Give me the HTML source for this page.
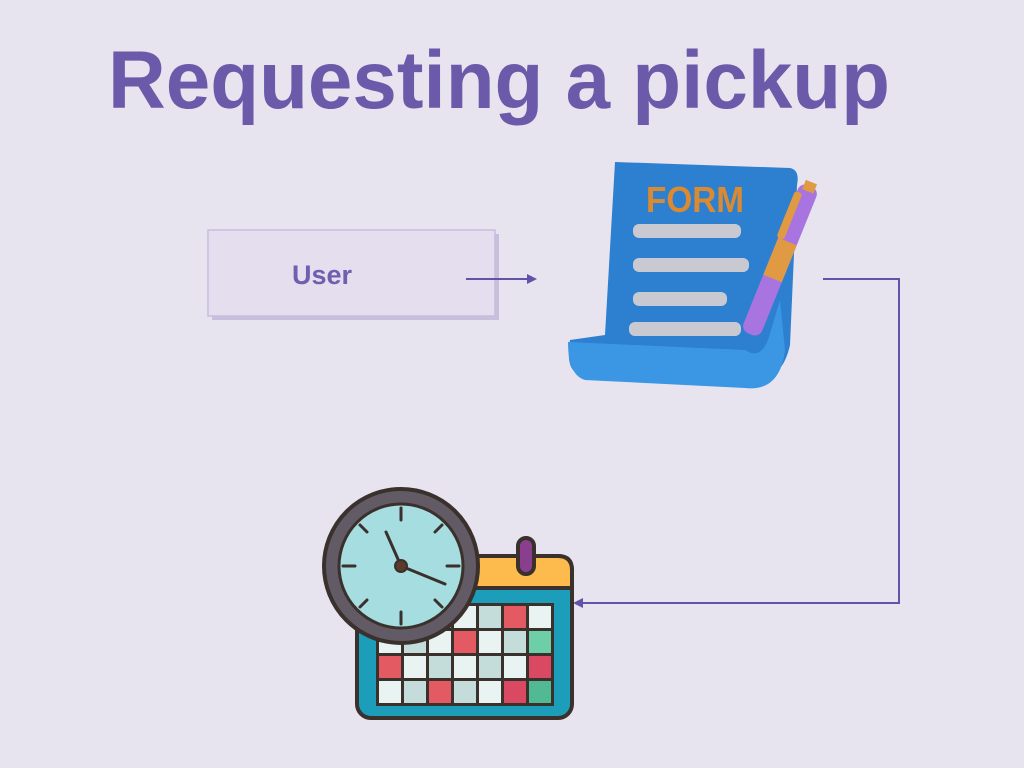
<!DOCTYPE html>
<html><head><meta charset="utf-8"><style>
html,body{margin:0;padding:0;background:#e7e3ef;}
svg{display:block}
</style></head><body>
<svg width="1024" height="768" viewBox="0 0 1024 768" xmlns="http://www.w3.org/2000/svg">
<rect width="1024" height="768" fill="#e7e3ef"/>
<text x="108" y="108" font-family="Liberation Sans, sans-serif" font-weight="bold" font-size="82" fill="#6a5aa9" textLength="782" lengthAdjust="spacingAndGlyphs">Requesting a pickup</text>
<!-- user box -->
<rect x="212" y="234" width="287" height="86" fill="#c8bfdc"/>
<rect x="208" y="230" width="287" height="86" fill="#e4deef" stroke="#c6bddd" stroke-width="1.5"/>
<text x="322" y="284" text-anchor="middle" font-family="Liberation Sans, sans-serif" font-weight="bold" font-size="27" fill="#6f5fae">User</text>
<!-- connectors -->
<g stroke="#6353a8" stroke-width="2" fill="none">
<line x1="466" y1="279" x2="530" y2="279"/>
<polyline points="823,279 899,279 899,603 580,603"/>
</g>
<polygon points="537,279 527,274 527,284" fill="#6353a8"/>
<polygon points="573,603 583,598 583,608" fill="#6353a8"/>
<!-- form -->
<path d="M615,162 L790,168 Q800,170 797,185 L790,345 Q780,390 740,375 L575,372 Q566,365 570,340 L605,335 Z" fill="#2d7fcf"/>
<path d="M568,342 L745,350 Q760,360 768,340 L780,300 L785,350 Q780,392 745,388 L585,380 Q568,375 568,342 Z" fill="#3b97e4"/>
<text x="646" y="212" font-family="Liberation Sans, sans-serif" font-weight="bold" font-size="36" fill="#d98a32" textLength="98" lengthAdjust="spacingAndGlyphs">FORM</text>
<g fill="#c9c9d2">
<rect x="633" y="224" width="108" height="14" rx="6"/>
<rect x="633" y="258" width="116" height="14" rx="6"/>
<rect x="633" y="292" width="94" height="14" rx="6"/>
<rect x="629" y="322" width="112" height="14" rx="6"/>
</g>
<g transform="rotate(22 780 260)">
<rect x="770" y="180" width="20" height="160" rx="8" fill="#a874e0"/>
<rect x="770" y="240" width="20" height="40" fill="#e09a44"/>
<rect x="768" y="190" width="8" height="50" rx="3" fill="#e09a44"/>
<rect x="774" y="176" width="12" height="10" fill="#e09a44"/>
</g>
<!-- calendar -->
<rect x="357" y="556" width="215" height="162" rx="14" fill="#1c9db9" stroke="#3a302c" stroke-width="4"/>
<path d="M371,556 H558 Q572,556 572,570 V588 H357 V570 Q357,556 371,556 Z" fill="#fdbb4d" stroke="#3a302c" stroke-width="4"/>
<rect x="518" y="538" width="16" height="36" rx="8" fill="#8a3f8e" stroke="#3a302c" stroke-width="4"/>
<rect x="376" y="603" width="178" height="103" fill="#3a302c"/>
<g id="cells"></g>
<g>
<rect x="379" y="606" width="22" height="22" fill="#e9f3f1"/><rect x="404" y="606" width="22" height="22" fill="#c5ddda"/><rect x="429" y="606" width="22" height="22" fill="#e9f3f1"/><rect x="454" y="606" width="22" height="22" fill="#e9f3f1"/><rect x="479" y="606" width="22" height="22" fill="#c5ddda"/><rect x="504" y="606" width="22" height="22" fill="#e35a62"/><rect x="529" y="606" width="22" height="22" fill="#e9f3f1"/>
<rect x="379" y="631" width="22" height="22" fill="#e9f3f1"/><rect x="404" y="631" width="22" height="22" fill="#c5ddda"/><rect x="429" y="631" width="22" height="22" fill="#e9f3f1"/><rect x="454" y="631" width="22" height="22" fill="#e35a62"/><rect x="479" y="631" width="22" height="22" fill="#e9f3f1"/><rect x="504" y="631" width="22" height="22" fill="#c5ddda"/><rect x="529" y="631" width="22" height="22" fill="#6ccfa8"/>
<rect x="379" y="656" width="22" height="22" fill="#e35a62"/><rect x="404" y="656" width="22" height="22" fill="#e9f3f1"/><rect x="429" y="656" width="22" height="22" fill="#c5ddda"/><rect x="454" y="656" width="22" height="22" fill="#e9f3f1"/><rect x="479" y="656" width="22" height="22" fill="#c5ddda"/><rect x="504" y="656" width="22" height="22" fill="#e9f3f1"/><rect x="529" y="656" width="22" height="22" fill="#d94a62"/>
<rect x="379" y="681" width="22" height="22" fill="#e9f3f1"/><rect x="404" y="681" width="22" height="22" fill="#c5ddda"/><rect x="429" y="681" width="22" height="22" fill="#e35a62"/><rect x="454" y="681" width="22" height="22" fill="#c5ddda"/><rect x="479" y="681" width="22" height="22" fill="#e9f3f1"/><rect x="504" y="681" width="22" height="22" fill="#d94a62"/><rect x="529" y="681" width="22" height="22" fill="#52b995"/>
</g>
<!-- clock -->
<circle cx="401" cy="566" r="77" fill="#625b65" stroke="#3a302c" stroke-width="4"/>
<circle cx="401" cy="566" r="62" fill="#a6dde0" stroke="#3a302c" stroke-width="3"/>
<g stroke="#3a302c" stroke-width="3" stroke-linecap="round">
<line x1="401" y1="508" x2="401" y2="520"/><line x1="401" y1="612" x2="401" y2="624"/>
<line x1="343" y1="566" x2="355" y2="566"/><line x1="447" y1="566" x2="459" y2="566"/>
<line x1="360" y1="525" x2="367" y2="532"/><line x1="442" y1="525" x2="435" y2="532"/>
<line x1="360" y1="607" x2="367" y2="600"/><line x1="442" y1="607" x2="435" y2="600"/>
<line x1="401" y1="566" x2="386" y2="532"/><line x1="401" y1="566" x2="445" y2="584"/>
</g>
<circle cx="401" cy="566" r="6" fill="#5a3a2a" stroke="#3a302c" stroke-width="2"/>
</svg>
</body></html>
